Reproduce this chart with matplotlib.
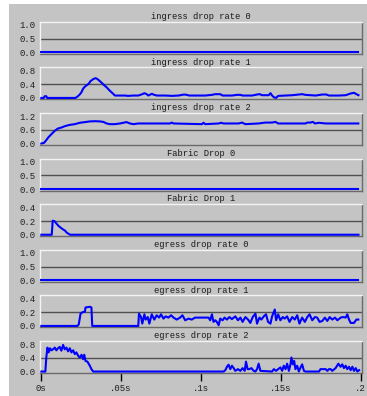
import matplotlib
matplotlib.use('Agg')
import matplotlib.pyplot as plt
from matplotlib.patches import Rectangle

GRAY = '#c4c4c4'
FONT = ['Liberation Mono', 'DejaVu Sans Mono']

titles = ["ingress drop rate 0", "ingress drop rate 1", "ingress drop rate 2",
          "Fabric Drop 0", "Fabric Drop 1", "egress drop rate 0",
          "egress drop rate 1", "egress drop rate 2"]
ymax = [1.0, 0.8, 1.2, 1.0, 0.4, 1.0, 0.4, 0.8]
ytick_labels = [["0.0", "0.5", "1.0"], ["0.0", "0.4", "0.8"], ["0.0", "0.6", "1.2"],
                ["0.0", "0.5", "1.0"], ["0.0", "0.2", "0.4"], ["0.0", "0.5", "1.0"],
                ["0.0", "0.2", "0.4"], ["0.0", "0.4", "0.8"]]
xticks_ms = [0, 50, 100, 150, 200]
xtick_labels = ["0s", ".05s", ".1s", ".15s", ".2"]

# time in ms, values
t_zero = [0.4, 198.6]
v_zero = [0.0, 0.0]

t_ing1 = [0.4, 1.9, 2.5, 3.5, 4.0, 21.7, 23.0, 24.4, 25.5, 26.5, 27.6, 29.0, 30.1, 31.1,
          32.8, 34.3, 35.5, 37.0, 38.4, 39.7, 41.2, 42.6, 43.9, 45.3, 46.4, 52.6, 54.7,
          57.9, 61.0, 63.5, 64.8, 66.2, 67.3, 69.4, 71.0, 72.5, 77.7, 81.9, 86.1, 89.6,
          91.3, 92.8, 98.6, 102.8, 107.0, 109.1, 112.2, 113.7, 119.5, 122.7, 124.8, 126.2,
          132.1, 135.2, 136.9, 138.3, 142.5, 143.6, 144.6, 145.7, 147.1, 148.4, 153.0,
          157.2, 161.3, 163.4, 165.5, 171.8, 176.0, 178.5, 180.2, 186.4, 190.6, 193.7,
          195.8, 197.3, 198.6]
v_ing1 = [0.0, 0.0, 0.05, 0.05, 0.0, 0.0, 0.04, 0.10, 0.17, 0.27, 0.33, 0.38, 0.42, 0.49,
          0.55, 0.58, 0.55, 0.49, 0.43, 0.37, 0.31, 0.24, 0.18, 0.12, 0.07, 0.07, 0.06,
          0.07, 0.07, 0.11, 0.14, 0.11, 0.07, 0.12, 0.09, 0.07, 0.07, 0.06, 0.07, 0.10,
          0.09, 0.07, 0.07, 0.07, 0.09, 0.11, 0.11, 0.07, 0.07, 0.09, 0.09, 0.07,
          0.07, 0.10, 0.11, 0.08, 0.08, 0.14, 0.07, 0.02, 0.0, 0.06, 0.07,
          0.08, 0.10, 0.11, 0.09, 0.07, 0.10, 0.10, 0.07, 0.07, 0.08, 0.13,
          0.15, 0.11, 0.08]

t_ing2 = [0.4, 2.1, 3.5, 5.0, 6.7, 8.8, 10.8, 12.9, 15.0, 18.2, 21.3, 24.4, 27.6, 30.7,
          33.8, 37.0, 39.1, 41.2, 43.2, 46.4, 49.5, 51.6, 53.7, 55.8, 57.9, 61.0, 71.5,
          80.9, 81.9, 83.0, 100.7, 101.8, 102.8, 111.2, 112.8, 114.3, 123.7, 125.8, 127.9,
          136.2, 140.4, 144.6, 146.7, 148.4, 165.5, 166.6, 168.6, 170.1, 171.4, 173.9,
          178.1, 198.5]
v_ing2 = [0.0, 0.03, 0.15, 0.29, 0.41, 0.56, 0.66, 0.70, 0.76, 0.82, 0.85, 0.91, 0.94, 0.97,
          0.98, 0.97, 0.95, 0.88, 0.85, 0.85, 0.88, 0.91, 0.94, 0.88, 0.85, 0.88, 0.88,
          0.88, 0.92, 0.88, 0.85, 0.91, 0.85, 0.88, 0.91, 0.88, 0.88, 0.92, 0.85,
          0.88, 0.92, 0.92, 0.95, 0.88, 0.88, 0.92, 0.92, 0.95, 0.88, 0.91,
          0.88, 0.88]

t_fab1 = [0.4, 6.9, 7.5, 8.55, 9.6, 11.1, 12.1, 13.8, 15.2, 16.3, 18.4, 198.6]
v_fab1 = [0.0, 0.0, 0.205, 0.20, 0.17, 0.13, 0.11, 0.08, 0.06, 0.03, 0.0, 0.0]

t_egr1 = [0.4, 23.0, 23.8, 24.9, 26.5, 27.6, 28.0, 30.7, 31.7, 32.2, 61.0, 61.4, 62.7,
          63.5, 64.8, 65.6, 66.9, 67.9, 69.4, 71.0, 72.5, 74.0, 75.2, 76.7, 78.1, 79.8,
          81.5, 83.0, 85.0, 87.1, 88.6, 90.3, 92.4, 94.4, 96.5, 99.7, 104.9, 105.9, 107.0,
          108.0, 109.1, 110.1, 111.2, 112.2, 113.7, 114.9, 116.4, 117.9, 119.5, 121.6,
          123.3, 124.8, 126.2, 127.9, 129.6, 131.0, 132.5, 134.2, 135.2, 136.7, 137.9,
          139.4, 140.8, 142.1, 143.6, 144.6, 146.3, 147.1, 148.4, 149.8, 151.3, 152.5,
          154.0, 155.5, 157.2, 158.8, 160.3, 161.7, 163.4, 165.1, 166.6, 168.0, 169.7,
          171.4, 172.8, 174.3, 176.0, 177.6, 179.1, 180.6, 182.2, 183.9, 185.4, 187.5,
          188.9, 190.6, 191.6, 192.7, 193.7, 195.8, 197.3, 198.5]
v_egr1 = [0.0, 0.0, 0.024, 0.18, 0.205, 0.205, 0.27, 0.28, 0.27, 0.0, 0.0, 0.18, 0.13,
          0.034, 0.17, 0.093, 0.13, 0.034, 0.17, 0.093, 0.156, 0.122, 0.17, 0.107, 0.14,
          0.122, 0.156, 0.122, 0.093, 0.122, 0.156, 0.083, 0.107, 0.093, 0.122, 0.122,
          0.122, 0.083, 0.17, 0.059, 0.083, 0.059, 0.01, 0.107, 0.083, 0.122, 0.093,
          0.13, 0.10, 0.14, 0.083, 0.122, 0.059, 0.13, 0.093, 0.044, 0.13, 0.18, 0.034,
          0.122, 0.093, 0.14, 0.17, 0.059, 0.034, 0.14, 0.24, 0.083, 0.17, 0.083, 0.13,
          0.107, 0.14, 0.059, 0.13, 0.093, 0.156, 0.034, 0.122, 0.059, 0.13, 0.17,
          0.083, 0.13, 0.122, 0.059, 0.073, 0.122, 0.073, 0.13, 0.093, 0.122, 0.083,
          0.122, 0.13, 0.122, 0.17, 0.093, 0.044, 0.044, 0.093, 0.093]

t_egr2 = [0.4, 2.9, 3.5, 4.2, 5.0, 5.8, 6.7, 7.7, 8.8, 9.8, 10.8, 11.9, 12.9, 14.0, 15.0,
          16.1, 17.1, 18.2, 19.2, 20.3, 21.3, 22.3, 23.4, 24.4, 25.5, 26.5, 27.2, 28.0,
          29.2, 30.7, 31.7, 32.8, 114.3, 115.4, 116.4, 117.4, 118.5, 119.5, 120.6, 121.6,
          123.3, 124.8, 126.2, 127.5, 128.3, 129.3, 130.4, 131.7, 133.1, 134.2, 135.2,
          136.2, 137.3, 144.6, 145.7, 147.1, 148.4, 149.8, 150.9, 151.9, 153.0, 154.0,
          155.1, 156.1, 156.7, 157.6, 158.4, 159.2, 160.3, 161.3, 162.4, 163.4, 164.5,
          165.5, 173.9, 174.9, 178.1, 179.1, 180.1, 181.2, 182.2, 184.3, 186.0, 187.4,
          188.5, 189.5, 190.6, 191.6, 192.7, 193.7, 194.8, 195.8, 196.9, 197.9, 199.0]
v_egr2 = [0.0, 0.0, 0.41, 0.70, 0.56, 0.68, 0.62, 0.65, 0.70, 0.62, 0.68, 0.72, 0.61, 0.78,
          0.65, 0.70, 0.59, 0.68, 0.56, 0.62, 0.51, 0.56, 0.46, 0.41, 0.49, 0.36, 0.49,
          0.31, 0.29, 0.17, 0.07, 0.0, 0.0, 0.04, 0.14, 0.20, 0.07, 0.17, 0.10, 0.02,
          0.07, 0.02, 0.10, 0.02, 0.29, 0.07, 0.07, 0.10, 0.02, 0.0, 0.07,
          0.23, 0.02, 0.0, 0.07, 0.02, 0.07, 0.12, 0.02, 0.17, 0.07, 0.23,
          0.02, 0.21, 0.41, 0.21, 0.31, 0.07, 0.17, 0.0, 0.12, 0.21, 0.02,
          0.0, 0.0, 0.07, 0.07, 0.02, 0.07, 0.07, 0.02, 0.10, 0.23, 0.14,
          0.21, 0.10, 0.17, 0.07, 0.14, 0.04, 0.14, 0.02, 0.10, 0.0, 0.04]

series = [(t_zero, v_zero), (t_ing1, v_ing1), (t_ing2, v_ing2), (t_zero, v_zero),
          (t_fab1, v_fab1), (t_zero, v_zero), (t_egr1, v_egr1), (t_egr2, v_egr2)]

W, H = 367, 396
fig = plt.figure(figsize=(W / 100, H / 100), dpi=100)
fig.patch.set_facecolor('white')
fig.patches.append(Rectangle((9 / W, 0), 1 - 9 / W, 1 - 4 / H, transform=fig.transFigure,
                             facecolor=GRAY, edgecolor='none', zorder=-10))

ax_left, ax_width, ax_h = 40, 322, 32
for i, (title, T, ylabels, (tt, vv)) in enumerate(zip(titles, ymax, ytick_labels, series)):
    top = 21.7 + i * 45.6
    ax = fig.add_axes([ax_left / W, 1 - (top + ax_h) / H, ax_width / W, ax_h / H])
    ax.set_facecolor(GRAY)
    ax.plot(tt, vv, color='#0000ff', lw=1.5, zorder=3)
    ax.axhline(T / 2, color='#505050', lw=1.0, zorder=2)
    ax.set_xlim(-0.44, 200.8)
    ax.set_ylim(-0.05 * T, 1.12 * T)
    ax.set_yticks([0, T / 2, T])
    ax.set_yticklabels(ylabels, family=FONT, fontsize=6.5, color='#202020')
    ax.tick_params(axis='y', length=0, pad=3.5)
    for s in ('top', 'left'):
        ax.spines[s].set_color('#f4f4f4')
        ax.spines[s].set_linewidth(1.0)
    for s in ('bottom', 'right'):
        ax.spines[s].set_color('#6a6a6a')
        ax.spines[s].set_linewidth(1.0)
    ax.set_title(title, family=FONT, fontsize=6.3, color='#1a1a1a', pad=2)
    if i == len(titles) - 1:
        ax.set_xticks(xticks_ms)
        ax.set_xticklabels(xtick_labels, family=FONT, fontsize=6.5, color='#202020')
        ax.tick_params(axis='x', length=6, width=1, color='black', pad=2)
    else:
        ax.set_xticks([])

fig.savefig('out.png', dpi=100, facecolor=fig.get_facecolor())
